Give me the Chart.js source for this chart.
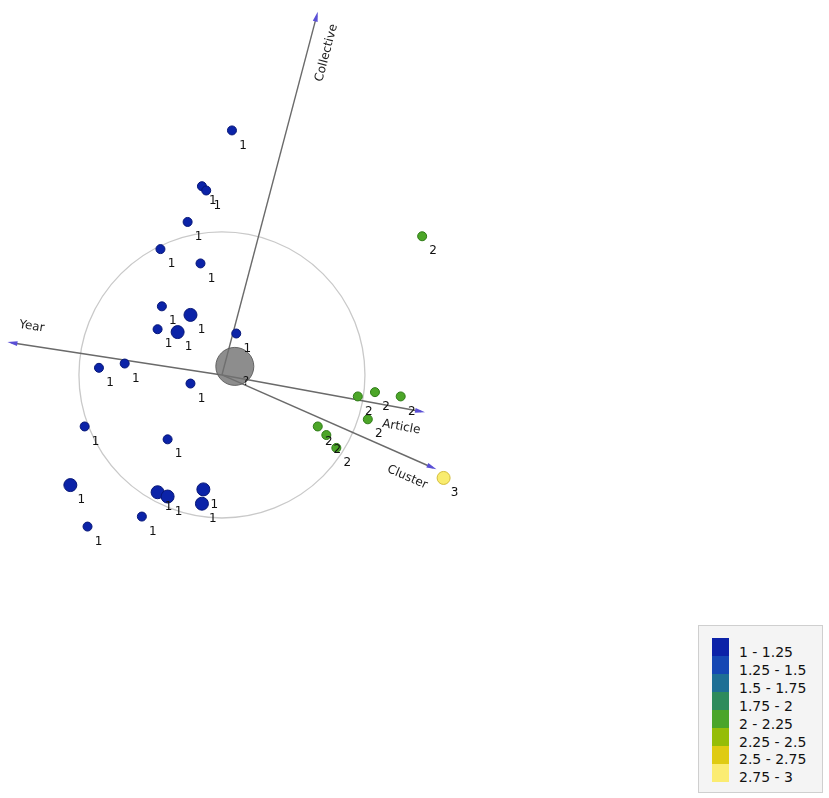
<!DOCTYPE html>
<html>
<head>
<meta charset="utf-8">
<script src="https://cdn.jsdelivr.net/npm/chart.js@4"></script>
<style>
    body { margin: 0; background: #fff; }
    #wrap { position: relative; width: 829px; height: 798px; overflow: hidden; }
    /* bubble charts pad the plot area by the largest radius (+border), so shift the canvas to compensate */
    #chart { position: absolute; left: -20px; top: -20px; }
    #legend {
        position: absolute; left: 698px; top: 625px; width: 125px; height: 168px;
        background: #f4f4f4; border: 1px solid #cfcfcf; box-sizing: border-box;
        font-family: 'DejaVu Sans', sans-serif; font-size: 14px; color: #111;
    }
    #legend .sw { position: absolute; left: 13px; width: 17px; height: 18px; }
    #legend .lb { position: absolute; left: 40px; height: 18px; line-height: 18px; white-space: nowrap; }
</style>
</head>
<body>
<div id="wrap">
    <canvas id="chart" width="869" height="838"></canvas>
    <div id="legend"></div>
</div>
<script>
// Observations, value 1 (blue)
const blueX = [0.07, -0.14, -0.11, -0.24, -0.43, -0.15, -0.42, -0.22, -0.45, -0.31, 0.10, -0.86,
    -0.68, -0.22, -0.96, -0.38, -1.06, -0.45, -0.38, -0.13, -0.14, -0.56, -0.94];
const blueY = [1.71, 1.32, 1.29, 1.07, 0.88, 0.78, 0.48, 0.42, 0.32, 0.30, 0.29, 0.05,
    0.08, -0.06, -0.36, -0.45, -0.77, -0.82, -0.85, -0.80, -0.90, -0.99, -1.06];
const blueCount = [1, 1, 1, 1, 1, 1, 1, 2, 1, 2, 1, 1, 1, 1, 1, 1, 2, 2, 2, 2, 2, 1, 1];

// Observations, value 2 (green)
const greenX = [1.40, 0.95, 1.07, 1.25, 1.02, 0.67, 0.73, 0.80];
const greenY = [0.97, -0.15, -0.12, -0.15, -0.31, -0.36, -0.42, -0.51];
const greenCount = [1, 1, 1, 1, 1, 1, 1, 1];

// Observations, value 3 (yellow)
const yellowX = [1.55];
const yellowY = [-0.72];
const yellowCount = [2];

// Centroid
const centerX = [0.09];
const centerY = [0.06];

// Variable arrows
const axisNames = ['Year', 'Collective', 'Article', 'Cluster'];
const axisX = [-1.50, 0.67, 1.42, 1.50];
const axisY = [0.23, 2.54, -0.26, -0.66];

// Legend
const legendLabels = ['1 - 1.25', '1.25 - 1.5', '1.5 - 1.75', '1.75 - 2', '2 - 2.25', '2.25 - 2.5', '2.5 - 2.75', '2.75 - 3'];
const legendColors = ['#0c22a8', '#1547b4', '#1e6f95', '#2e8b5c', '#4aa52a', '#95bd08', '#dfcb12', '#fbec72'];

function toPoints(xs, ys, counts) {
    return xs.map((x, i) => ({ x: x, y: ys[i], r: counts[i] > 1 ? 6.5 : 4.5 }));
}

// Correlation circle + variable arrows
const arrowPlugin = {
    id: 'arrows',
    beforeDatasetsDraw(chart) {
        const ctx = chart.ctx;
        const xs = chart.scales.x;
        const ys = chart.scales.y;
        const ox = xs.getPixelForValue(0);
        const oy = ys.getPixelForValue(0);
        const rad = xs.getPixelForValue(1) - ox;

        ctx.save();
        ctx.strokeStyle = '#c9c9c9';
        ctx.lineWidth = 1.3;
        ctx.beginPath();
        ctx.arc(ox, oy, rad, 0, Math.PI * 2);
        ctx.stroke();

        axisNames.forEach((name, i) => {
            const tx = xs.getPixelForValue(axisX[i]);
            const ty = ys.getPixelForValue(axisY[i]);
            const dx = tx - ox, dy = ty - oy;
            const len = Math.hypot(dx, dy);
            const ux = dx / len, uy = dy / len;

            ctx.strokeStyle = '#6a6a6a';
            ctx.lineWidth = 1.4;
            ctx.beginPath();
            ctx.moveTo(ox, oy);
            ctx.lineTo(tx - ux * 4, ty - uy * 4);
            ctx.stroke();

            // arrow head
            ctx.fillStyle = '#5a4fd6';
            ctx.beginPath();
            ctx.moveTo(tx, ty);
            ctx.lineTo(tx - ux * 10 - uy * 2.5, ty - uy * 10 + ux * 2.5);
            ctx.lineTo(tx - ux * 10 + uy * 2.5, ty - uy * 10 - ux * 2.5);
            ctx.closePath();
            ctx.fill();

            // label
            const lx = ox + dx * 0.9 - uy * 19;
            const ly = oy + dy * 0.9 + ux * 19;
            let ang = Math.atan2(dy, dx);
            if (ang > Math.PI / 2) ang -= Math.PI;
            if (ang < -Math.PI / 2) ang += Math.PI;
            ctx.save();
            ctx.translate(lx, ly);
            ctx.rotate(ang);
            ctx.fillStyle = '#222';
            ctx.font = '12px "DejaVu Sans"';
            ctx.textAlign = 'center';
            ctx.textBaseline = 'middle';
            ctx.fillText(name, 0, 0);
            ctx.restore();
        });
        ctx.restore();
    }
};

// Value labels next to each point
const valueLabelPlugin = {
    id: 'valueLabels',
    afterDatasetsDraw(chart) {
        const ctx = chart.ctx;
        ctx.save();
        ctx.fillStyle = '#111';
        ctx.font = '12px "DejaVu Sans"';
        ctx.textAlign = 'center';
        ctx.textBaseline = 'middle';
        chart.data.datasets.forEach((ds, di) => {
            const meta = chart.getDatasetMeta(di);
            meta.data.forEach(el => {
                ctx.fillText(ds.valueLabel, el.x + 11, el.y + 15);
            });
        });
        ctx.restore();
    }
};

const ctx = document.getElementById('chart').getContext('2d');
const chart = new Chart(ctx, {
    type: 'bubble',
    data: {
        datasets: [
            {
                label: 'center',
                valueLabel: '?',
                data: centerX.map((x, i) => ({ x: x, y: centerY[i], r: 19 })),
                backgroundColor: 'rgba(112,112,112,0.8)',
                borderColor: 'rgba(90,90,90,0.9)',
                borderWidth: 1
            },
            {
                label: '1',
                valueLabel: '1',
                data: toPoints(blueX, blueY, blueCount),
                backgroundColor: '#0b23a8',
                borderColor: '#061677',
                borderWidth: 1
            },
            {
                label: '2',
                valueLabel: '2',
                data: toPoints(greenX, greenY, greenCount),
                backgroundColor: '#4ca628',
                borderColor: '#2e7a16',
                borderWidth: 1
            },
            {
                label: '3',
                valueLabel: '3',
                data: toPoints(yellowX, yellowY, yellowCount),
                backgroundColor: '#f9ec6e',
                borderColor: '#d4bd3a',
                borderWidth: 1
            }
        ]
    },
    options: {
        responsive: false,
        animation: false,
        layout: { padding: 0 },
        plugins: {
            legend: { display: false },
            tooltip: { enabled: false }
        },
        scales: {
            x: { type: 'linear', display: false, min: -1.552, max: 4.245 },
            y: { type: 'linear', display: false, min: -2.958, max: 2.622 }
        }
    },
    plugins: [arrowPlugin, valueLabelPlugin]
});

// Build legend
const legend = document.getElementById('legend');
legendLabels.forEach((text, i) => {
    const sw = document.createElement('div');
    sw.className = 'sw';
    sw.style.top = (12 + i * 18) + 'px';
    sw.style.background = legendColors[i];
    legend.appendChild(sw);

    const lb = document.createElement('div');
    lb.className = 'lb';
    lb.style.top = (17 + i * 17.9) + 'px';
    lb.textContent = text;
    legend.appendChild(lb);
});
</script>
</body>
</html>
